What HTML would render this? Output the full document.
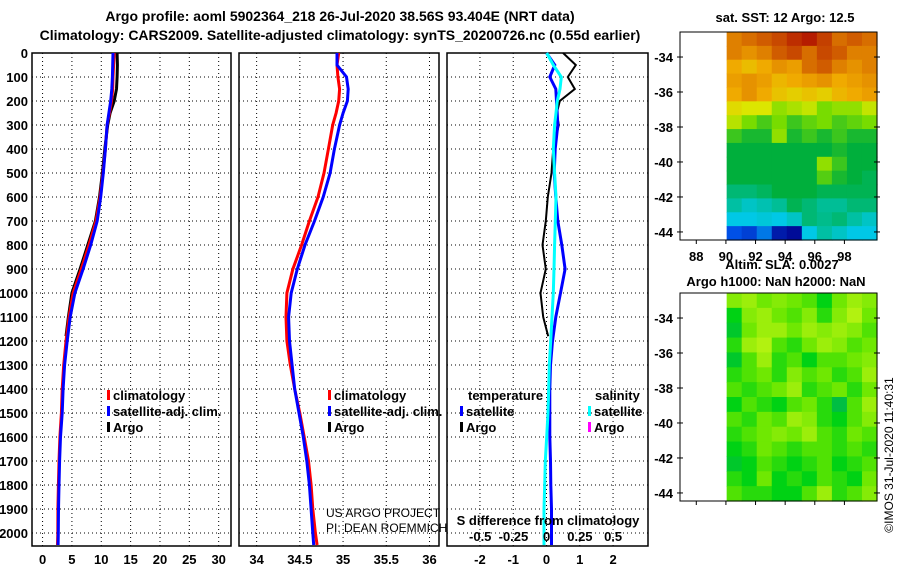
<!DOCTYPE html>
<html><head><meta charset="utf-8"><style>
html,body{margin:0;padding:0;background:#fff;}
svg{display:block;font-family:"Liberation Sans",sans-serif;font-weight:bold;}
</style></head><body>
<svg id="c" width="900" height="580" viewBox="0 0 900 580" xmlns="http://www.w3.org/2000/svg">
<text x="340" y="21" font-size="14" text-anchor="middle">Argo profile: aoml 5902364_218 26-Jul-2020 38.56S 93.404E (NRT data)</text>
<text x="340" y="40" font-size="14" text-anchor="middle">Climatology: CARS2009. Satellite-adjusted climatology: synTS_20200726.nc (0.55d earlier)</text>
<g id="g"></g>
</svg>
<script>
// depth levels (m)
const depths=[0,50,100,150,200,250,300,400,500,600,700,800,900,1000,1100,1200,1300,1400,1500,1600,1700,1800,1900,2000,2050];
const tempClim=[12.2,12.1,12.0,11.95,11.75,11.4,11.0,10.7,10.3,9.8,9.1,7.9,6.6,5.2,4.5,4.0,3.6,3.35,3.2,2.95,2.8,2.7,2.62,2.6,2.55];
const tempSat=[12.0,11.95,11.9,11.8,11.6,11.3,11.0,10.7,10.35,9.9,9.3,8.2,6.9,5.5,4.7,4.2,3.75,3.5,3.35,3.05,2.9,2.8,2.72,2.68,2.65];
const argoDepths=[0,50,100,150,200,250,300,400,500,600,700,800,900,1000,1100,1180];
const tempArgo=[12.7,12.75,12.7,12.6,12.2,11.5,11.1,10.6,10.2,9.7,9.0,7.7,6.4,5.0,4.4,4.0];
const salClim=[34.95,34.93,34.94,34.96,34.95,34.92,34.88,34.83,34.78,34.71,34.61,34.52,34.42,34.35,34.34,34.35,34.39,34.44,34.5,34.55,34.6,34.63,34.65,34.68,34.7];
const salSat=[34.93,34.93,35.04,35.06,35.05,35.0,34.96,34.9,34.85,34.77,34.67,34.56,34.47,34.4,34.37,34.38,34.41,34.44,34.49,34.54,34.58,34.61,34.63,34.65,34.66];
const tDiffSat=[0,0.25,0.1,0.28,0.3,0.32,0.34,0.26,0.23,0.28,0.34,0.46,0.56,0.42,0.28,0.18,0.12,0.1,0.1,0.1,0.12,0.13,0.15,0.15,0.15];
const tDiffArgo=[0.5,0.88,0.64,0.85,0.4,0.31,0.37,0.2,0.15,0.04,-0.02,-0.12,-0.02,-0.18,-0.1,0.05];
const sDiffSat=[0,0.05,0.11,0.1,0.08,0.07,0.06,0.05,0.06,0.07,0.065,0.06,0.055,0.05,0.04,0.03,0.02,0.015,0.01,0.0,-0.01,-0.015,-0.02,-0.02,-0.02];
const depthTicks=[0,100,200,300,400,500,600,700,800,900,1000,1100,1200,1300,1400,1500,1600,1700,1800,1900,2000];
const tTicks=[0,5,10,15,20,25,30];
const sTicks=[34,34.5,35,35.5,36];
const sTickLabels=["34","34.5","35","35.5","36"];
const dTicks=[-2,-1,0,1,2];
const sdTicks=[-0.5,-0.25,0,0.25,0.5];
const sdTickLabels=["-0.5","-0.25","0","0.25","0.5"];
// map data
const lonTicks=[88,90,92,94,96,98];
const latTicks=[-34,-36,-38,-40,-42,-44];
const sstGrid=[
[.85,.88,.9,.92,.95,.97,.93,.88,.9,.88],
[.85,.82,.85,.9,.92,.88,.92,.9,.85,.85],
[.78,.75,.78,.82,.8,.88,.9,.85,.82,.85],
[.8,.82,.8,.76,.78,.8,.82,.78,.8,.82],
[.78,.82,.78,.74,.72,.74,.72,.76,.78,.8],
[.7,.68,.68,.62,.64,.66,.6,.62,.62,.66],
[.65,.6,.56,.6,.55,.58,.6,.56,.58,.6],
[.55,.52,.52,.62,.52,.55,.52,.55,.52,.52],
[.5,.5,.5,.5,.5,.5,.5,.52,.5,.5],
[.5,.5,.5,.5,.5,.5,.62,.55,.5,.5],
[.5,.5,.5,.5,.5,.5,.57,.52,.5,.48],
[.45,.45,.47,.5,.5,.5,.48,.48,.48,.48],
[.4,.35,.38,.42,.48,.45,.42,.42,.45,.45],
[.3,.3,.32,.3,.35,.45,.43,.45,.4,.35],
[.15,.12,.2,.05,.02,.3,.4,.35,.3,.3]];
const slaGrid=[
[.7,.8,.6,.7,.6,.5,.3,.6,.8,.7],
[.3,.7,.8,.6,.5,.7,.4,.7,.9,.6],
[.2,.6,.8,.8,.6,.8,.7,.8,.7,.5],
[.4,.8,.9,.5,.4,.6,.8,.7,.5,.6],
[.2,.5,.8,.4,.5,.3,.5,.5,.6,.7],
[.4,.5,.6,.4,.7,.5,.6,.4,.5,.8],
[.5,.4,.5,.6,.8,.4,.5,.6,.4,.6],
[.3,.5,.4,.3,.5,.6,.4,.1,.5,.8],
[.5,.4,.6,.5,.8,.7,.4,.3,.5,.7],
[.4,.5,.6,.7,.6,.8,.5,.4,.6,.5],
[.3,.4,.6,.5,.4,.5,.5,.4,.5,.4],
[.2,.3,.5,.4,.3,.4,.5,.3,.4,.5],
[.4,.3,.6,.3,.4,.3,.5,.4,.3,.6],
[.5,.4,.4,.3,.3,.5,.8,.4,.5,.7]];

const NS="http://www.w3.org/2000/svg";
const G=document.getElementById('g');
function el(t,a,p){const e=document.createElementNS(NS,t);for(const k in a)e.setAttribute(k,a[k]);(p||G).appendChild(e);return e;}
function txt(x,y,s,sz,anchor,p){const e=el('text',{x:x,y:y,'font-size':sz,'text-anchor':anchor||'middle'},p);e.textContent=s;return e;}

const yTop=53,yBot=546,dScale=0.24;
const yD=d=>yTop+d*dScale;
function lin(d0,d1,r0,r1){return v=>r0+(v-d0)/(d1-d0)*(r1-r0);}

const panels=[
 {x0:32,x1:231,dom:[-1.8,32.1],ticks:tTicks,labels:tTicks.map(String),name:'temperature-panel'},
 {x0:239,x1:439,dom:[33.796,36.11],ticks:sTicks,labels:sTickLabels,name:'salinity-panel'},
 {x0:447,x1:648,dom:[-2.99,3.05],ticks:dTicks,labels:dTicks.map(String),name:'difference-panel'}];
panels.forEach((p,i)=>{
  const grp=el('g',{});
  
  
  p.x=lin(p.dom[0],p.dom[1],p.x0,p.x1);
  depthTicks.forEach(d=>{
    const l=el('line',{x1:p.x0,x2:p.x1,y1:yD(d),y2:yD(d),stroke:'#000','stroke-width':1,'stroke-dasharray':'1,3'},grp);
    
    
  });
  p.ticks.forEach((t,j)=>{
    const X=p.x(t);
    const l=el('line',{x1:X,x2:X,y1:yTop,y2:yBot,stroke:'#000','stroke-width':1,'stroke-dasharray':'1,3'},grp);
    
    
    const t2=txt(X,564,p.labels[j],13,'middle',grp);
    
    
  });
  const r=el('rect',{x:p.x0,y:yTop,width:p.x1-p.x0,height:yBot-yTop,fill:'none',stroke:'#000','stroke-width':1.5},grp);
  
  
});
depthTicks.forEach(d=>{
  const t=txt(28,yD(d)+5,String(d),13,'end');
  
  
});
function line(xs,ds,xf,col,w,name){
  const pts=xs.map((v,i)=>xf(v).toFixed(1)+','+yD(ds[i]).toFixed(1)).join(' ');
  const pl=el('polyline',{points:pts,fill:'none',stroke:col,'stroke-width':w,'stroke-linejoin':'miter'});
  
  
}
const P1=panels[0],P2=panels[1],P3=panels[2];
line(tempArgo,argoDepths,P1.x,'#000',3,'temp-argo-line');
line(tempClim,depths,P1.x,'#f00',3,'temp-climatology-line');
line(tempSat,depths,P1.x,'#00f',3,'temp-satellite-line');
line(salClim,depths,P2.x,'#f00',3,'sal-climatology-line');
line(salSat,depths,P2.x,'#00f',3,'sal-satellite-line');
const sdX=lin(-0.75,0.7625,P3.x0,P3.x1);
line(tDiffArgo,argoDepths,P3.x,'#000',2,'tdiff-argo-line');
line(tDiffSat,depths,P3.x,'#00f',3,'tdiff-satellite-line');
line(sDiffSat,depths,sdX,'#0ff',3,'sdiff-satellite-line');
// S diff axis
sdTicks.forEach((t,j)=>{
  const l=txt(sdX(t),541,sdTickLabels[j],13,'middle');
  
  
});
const st=txt(548,525,'S difference from climatology',13,'middle');


// legends
function leg(x,y,col,label,name){
  const r=el('rect',{x:x,y:y-10,width:3,height:10,fill:col});
  
  
  const t=txt(x+6,y,label,13,'start');
  
  
}
leg(107,400,'#f00','climatology','legend-climatology-t');
leg(107,416,'#00f','satellite-adj. clim.','legend-satellite-t');
leg(107,432,'#000','Argo','legend-argo-t');
leg(328,400,'#f00','climatology','legend-climatology-s');
leg(328,416,'#00f','satellite-adj. clim.','legend-satellite-s');
leg(328,432,'#000','Argo','legend-argo-s');
const tl=txt(468,400,'temperature',13,'start');


const sl=txt(595,400,'salinity',13,'start');


leg(460,416,'#00f','satellite','legend-t-satellite');
leg(460,432,'#000','Argo','legend-t-argo');
leg(588,416,'#0ff','satellite','legend-s-satellite');
leg(588,432,'#f0f','Argo','legend-s-argo');
const c1=el('text',{x:326,y:517,'font-size':12,'font-weight':'normal'});c1.textContent='US ARGO PROJECT';


const c2=el('text',{x:326,y:532,'font-size':12,'font-weight':'normal'});c2.textContent='PI: DEAN ROEMMICH';



// colormaps
function interp(stops,v){v=Math.max(0,Math.min(1,v));for(let i=1;i<stops.length;i++){if(v<=stops[i][0]){const a=stops[i-1],b=stops[i],f=(v-a[0])/(b[0]-a[0]);return 'rgb('+[1,2,3].map(k=>Math.round(a[k]+(b[k]-a[k])*f)).join(',')+')';}}return 'rgb('+stops[stops.length-1].slice(1).join(',')+')';}
const sstStops=[[0,0,0,140],[0.15,0,80,230],[0.3,0,200,230],[0.42,0,190,150],[0.5,0,175,60],[0.6,120,220,0],[0.68,220,230,0],[0.78,240,170,0],[0.88,215,110,0],[1,170,0,0]];
const slaStops=[[0,0,180,90],[0.3,0,210,20],[0.55,100,230,0],[1,200,245,20]];
const lonX=lin(86.9,100.2,680,877);
function drawMap(grid,stops,y0,y1,name){
  const latY=lin(-32.57,-44.46,y0,y1);
  const grp=el('g',{});
  
  
  const xa=lonX(90.05),xb=877,rows=grid.length,cols=grid[0].length;
  const cw=(xb-xa)/cols,ch=(y1-y0)/rows;
  grid.forEach((row,ri)=>row.forEach((v,ci)=>{
    const r=el('rect',{x:(xa+ci*cw).toFixed(2),y:(y0+ri*ch).toFixed(2),width:(cw+0.6).toFixed(2),height:(ch+0.6).toFixed(2),fill:interp(stops,v)},grp);
    
    
  }));
  const f=el('rect',{x:680,y:y0,width:197,height:y1-y0,fill:'none',stroke:'#000','stroke-width':1},grp);
  
  
  latTicks.forEach(t=>{
    const Y=latY(t);
    el('line',{x1:677,x2:683,y1:Y,y2:Y,stroke:'#000'},grp);
    el('line',{x1:874,x2:880,y1:Y,y2:Y,stroke:'#000'},grp);
    const l=txt(673,Y+5,String(t),13,'end',grp);
    
    
  });
  lonTicks.forEach(t=>{
    const X=lonX(t);
    el('line',{x1:X,x2:X,y1:y1,y2:y1+4,stroke:'#000'},grp);
  });
}
drawMap(sstGrid,sstStops,32,240,'sst-map');
drawMap(slaGrid,slaStops,293,501,'sla-map');
lonTicks.forEach(t=>{
  const l=txt(lonX(t),261,String(t),13,'middle');
  
  
});
const m1=txt(785,22,'sat. SST: 12 Argo: 12.5',13,'middle');


const m2=txt(782,269,'Altim. SLA: 0.0027',13,'middle');


const m3=txt(776,286,'Argo h1000: NaN h2000: NaN',13,'middle');


const cr=el('text',{x:0,y:0,'font-size':12,'font-weight':'normal','text-anchor':'middle',transform:'translate(893,455) rotate(-90)'});
cr.textContent='©IMOS 31-Jul-2020 11:40:31';


</script>
</body></html>
